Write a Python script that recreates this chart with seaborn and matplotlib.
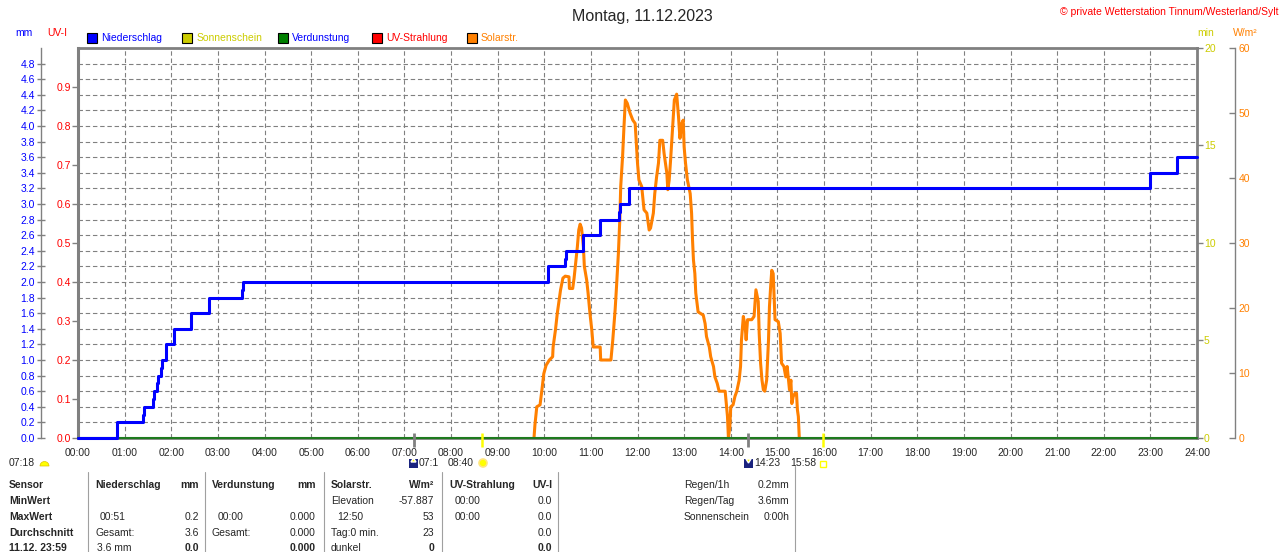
import numpy as np
import pandas as pd
import matplotlib
matplotlib.use('Agg')
import matplotlib.pyplot as plt
from matplotlib.patches import Rectangle, Circle, Wedge, Polygon
from matplotlib.lines import Line2D
import seaborn as sns

# ---- data ----------------------------------------------------------------
# Niederschlag, cumulative (mm); value holds until the next time (hours)
rain_time = [0.0, 0.83, 1.40, 1.42, 1.60, 1.63, 1.69, 1.71, 1.78, 1.81, 1.89,
             2.05, 2.42, 2.80, 2.81, 3.51, 3.53, 10.09, 10.45, 10.47, 10.83,
             11.20, 11.61, 11.63, 11.81, 11.82, 23.00, 23.58, 24.0]
rain_mm = [0.0, 0.2, 0.3, 0.4, 0.5, 0.6, 0.7, 0.8, 0.9, 1.0, 1.2,
           1.4, 1.6, 1.7, 1.8, 1.9, 2.0, 2.2, 2.3, 2.4, 2.6,
           2.8, 2.9, 3.0, 3.1, 3.2, 3.4, 3.6, 3.6]

# Solarstrahlung (W/m²)
solar_time = [9.78, 9.80, 9.84, 9.91, 9.95, 9.99, 10.04, 10.11, 10.18, 10.19,
              10.24, 10.28, 10.32, 10.35, 10.40, 10.45, 10.53, 10.54, 10.61, 10.64,
              10.68, 10.71, 10.74, 10.77, 10.80, 10.84, 10.86, 10.91, 10.94, 10.98,
              11.02, 11.05, 11.20, 11.21, 11.43, 11.47, 11.52, 11.55, 11.59, 11.62,
              11.64, 11.68, 11.71, 11.74, 11.78, 11.84, 11.90, 11.95, 11.98, 12.00,
              12.03, 12.09, 12.14, 12.20, 12.25, 12.28, 12.34, 12.37, 12.41, 12.45,
              12.48, 12.54, 12.57, 12.63, 12.65, 12.68, 12.71, 12.75, 12.79, 12.84,
              12.88, 12.91, 12.95, 12.98, 13.00, 13.03, 13.07, 13.13, 13.16, 13.18,
              13.20, 13.23, 13.25, 13.30, 13.41, 13.45, 13.48, 13.54, 13.57, 13.63,
              13.66, 13.71, 13.75, 13.88, 13.91, 13.93, 13.95, 13.98, 14.00, 14.05,
              14.09, 14.13, 14.18, 14.21, 14.23, 14.27, 14.31, 14.33, 14.36, 14.45,
              14.50, 14.52, 14.54, 14.59, 14.61, 14.64, 14.67, 14.70, 14.73, 14.77,
              14.81, 14.83, 14.86, 14.88, 14.91, 14.95, 15.02, 15.06, 15.09, 15.14,
              15.18, 15.21, 15.26, 15.29, 15.31, 15.34, 15.38, 15.41, 15.43, 15.45,
              15.47]
solar_wm2 = [0.0, 2.0, 4.8, 5.1, 7.4, 9.9, 11.2, 12.0, 12.5, 14.0,
             16.6, 19.2, 21.2, 22.8, 24.6, 24.9, 24.8, 23.0, 23.0, 24.6,
             27.4, 29.4, 32.0, 32.9, 32.3, 29.4, 26.4, 24.3, 22.3, 19.2,
             16.6, 14.0, 14.0, 12.0, 12.0, 15.1, 19.7, 23.3, 28.4, 33.5,
             38.7, 43.3, 47.9, 52.0, 51.5, 50.0, 48.9, 48.4, 44.8, 42.3,
             39.7, 38.7, 35.1, 34.6, 32.0, 32.3, 34.6, 37.6, 40.2, 42.3,
             45.8, 45.8, 43.8, 40.7, 38.2, 39.7, 42.8, 47.4, 52.0, 52.9,
             49.4, 46.1, 48.4, 48.9, 44.8, 42.3, 39.7, 37.6, 34.6, 30.5,
             27.4, 25.3, 22.3, 19.4, 18.9, 17.6, 15.6, 14.0, 12.5, 11.0,
             9.4, 8.4, 7.2, 7.2, 4.8, 3.3, 0.0, 1.7, 4.8, 5.1,
             6.4, 7.2, 8.9, 11.0, 15.1, 18.7, 17.1, 15.1, 18.2, 18.2,
             18.7, 20.7, 22.8, 21.0, 16.1, 11.5, 8.9, 7.4, 7.2, 8.9,
             15.1, 20.2, 23.8, 25.8, 25.3, 18.2, 17.9, 16.1, 11.5, 11.0,
             9.4, 11.0, 7.4, 8.9, 5.3, 6.4, 6.9, 6.9, 4.3, 3.3,
             0.0]

# Verdunstung (mm) – zero all day
evap_time = [0.0, 24.0]
evap_mm = [0.0, 0.0]

# twilight / sunrise-sunset marks on the time axis (hours)
twilight_marks = [7.20, 14.38]
sun_marks = [8.67, 15.97]

hour_labels = [f'{h:02d}:00' for h in range(25)]
mm_ticks = [round(0.2 * i, 1) for i in range(25)]
uv_ticks = [round(0.1 * i, 1) for i in range(10)]
min_ticks = [0, 5, 10, 15, 20]
wm2_ticks = [0, 10, 20, 30, 40, 50, 60]

legend_labels = ['Niederschlag', 'Sonnenschein', 'Verdunstung', 'UV-Strahlung', 'Solarstr.']
legend_box_colors = ['#0000ff', '#cccc00', '#008000', '#ff0000', '#ff8000']
legend_text_colors = ['#0000ff', '#cccc00', '#0000ff', '#ff0000', '#ff8000']

# statistics table below the chart
sensor_rows = ['Sensor', 'MinWert', 'MaxWert', 'Durchschnitt', '11.12. 23:59']
rain_left = ['Niederschlag', '', '00:51', 'Gesamt:', '3.6 mm']
rain_right = ['mm', '', '0.2', '3.6', '0.0']
evap_left = ['Verdunstung', '', '00:00', 'Gesamt:', '']
evap_right = ['mm', '', '0.000', '0.000', '0.000']
solar_left = ['Solarstr.', 'Elevation', '12:50', 'Tag:0 min.', 'dunkel']
solar_right = ['W/m²', '-57.887', '53', '23', '0']
uv_left = ['UV-Strahlung', '00:00', '00:00', '', '']
uv_right = ['UV-I', '0.0', '0.0', '0.0', '0.0']
extra_left = ['Regen/1h', 'Regen/Tag', 'Sonnenschein']
extra_right = ['0.2mm', '3.6mm', '0:00h']

# ---- style ----------------------------------------------------------------
sns.set_style('white')
plt.rcParams['font.family'] = ['Liberation Sans', 'DejaVu Sans']
plt.rcParams['font.size'] = 7.5

GREY = '#808080'
W, H = 1280, 552


def fx(x):
    return x / W


def fy(y):
    return 1 - y / H


fig = plt.figure(figsize=(W / 100, H / 100), dpi=100)
fig.patch.set_facecolor('white')
ax = fig.add_axes([fx(78), fy(438), (1197 - 78) / W, (438 - 48) / H])

# host axis: mm scale, grid, time axis
ax.set_xlim(0, 24)
ax.set_ylim(0, 5.0)
ax.set_xticks(range(25))
ax.set_xticklabels(hour_labels)
ax.set_yticks(mm_ticks)
ax.set_yticklabels([f'{v:.1f}' for v in mm_ticks])
ax.grid(True, color=GREY, ls=(0, (4, 2.5)), lw=0.8)
ax.tick_params(axis='x', length=0, pad=7, labelsize=7.5)
ax.tick_params(axis='y', direction='inout', length=6, width=1, color=GREY,
               labelcolor='#0000ff', pad=1, labelsize=7.5)
ax.spines['left'].set_position(('outward', 27))
ax.spines['left'].set_color(GREY)
ax.spines['left'].set_linewidth(1)
for side in ['top', 'right', 'bottom']:
    ax.spines[side].set_color(GREY)
    ax.spines[side].set_linewidth(2)

# UV axis on the frame edge
ax_uv = ax.twinx()
ax_uv.set_ylim(0, 1.0)
ax_uv.yaxis.tick_left()
ax_uv.set_yticks(uv_ticks)
ax_uv.set_yticklabels([f'{v:.1f}' for v in uv_ticks])
ax_uv.tick_params(axis='y', length=4, width=1, color=GREY, labelcolor='#ff0000',
                  pad=1, labelsize=7.5)
for side in ['top', 'right', 'bottom']:
    ax_uv.spines[side].set_visible(False)
ax_uv.spines['left'].set_color(GREY)
ax_uv.spines['left'].set_linewidth(2.2)

# Sonnenschein minutes axis
ax_min = ax.twinx()
ax_min.set_ylim(0, 20)
ax_min.set_yticks(min_ticks)
ax_min.tick_params(axis='y', length=4, width=1, color=GREY, labelcolor='#cccc00',
                   pad=1, labelsize=7.5)
for side in ax_min.spines:
    ax_min.spines[side].set_visible(False)

# solar radiation axis
ax_w = ax.twinx()
solar = pd.DataFrame({'t': solar_time, 'w': solar_wm2})
sns.lineplot(data=solar, x='t', y='w', ax=ax_w, color='#ff8000', lw=2.2,
             estimator=None, sort=False, legend=False)
ax_w.set_ylim(0, 60)
ax_w.set_xlim(0, 24)
ax_w.set_yticks(wm2_ticks)
ax_w.set_ylabel('')
ax_w.tick_params(axis='y', direction='in', length=4, width=1, color=GREY,
                 labelcolor='#ff8000', pad=3, labelsize=7.5)
for side in ['top', 'left', 'bottom']:
    ax_w.spines[side].set_visible(False)
ax_w.spines['right'].set_position(('outward', 27))
ax_w.spines['right'].set_color(GREY)
ax_w.spines['right'].set_linewidth(1)

# rain + evaporation on top
ax_b = ax.twinx()
evap = pd.DataFrame({'t': evap_time, 'mm': evap_mm})
rain = pd.DataFrame({'t': rain_time, 'mm': rain_mm})
sns.lineplot(data=evap, x='t', y='mm', ax=ax_b, color='#1e7a1e', lw=1.5,
             estimator=None, sort=False, legend=False, clip_on=False)
sns.lineplot(data=rain, x='t', y='mm', ax=ax_b, color='#0000ff', lw=2.2,
             drawstyle='steps-post', estimator=None, sort=False, legend=False,
             clip_on=False)
ax_b.set_xlim(0, 24)
ax_b.set_ylim(0, 5.0)
ax_b.set_axis_off()

# marks on the time axis
ax_b.vlines(twilight_marks, -0.024, 0.014, transform=ax_b.get_xaxis_transform(),
            color=GREY, lw=2, clip_on=False)
ax_b.vlines(sun_marks, -0.024, 0.014, transform=ax_b.get_xaxis_transform(),
            color='#ffff00', lw=1.8, clip_on=False)

# ---- header texts ---------------------------------------------------------
fig.text(fx(642), fy(16), 'Montag, 11.12.2023', ha='center', va='center', fontsize=11.5)
fig.text(fx(1278), fy(12), '© private Wetterstation Tinnum/Westerland/Sylt',
         ha='right', va='center', color='#ff0000', fontsize=7.5)
fig.text(fx(15), fy(33), 'mm', color='#0000ff', va='center')
fig.text(fx(47), fy(33), 'UV-I', color='#ff0000', va='center')
fig.text(fx(1197), fy(33), 'min', color='#cccc00', va='center')
fig.text(fx(1233), fy(33), 'W/m²', color='#ff8000', va='center')

legend_x = [87, 182, 277.5, 372, 466.5]
for x0, lab, bc, tc in zip(legend_x, legend_labels, legend_box_colors, legend_text_colors):
    fig.add_artist(Rectangle((fx(x0), fy(43)), 10 / W, 10 / H, transform=fig.transFigure,
                             facecolor=bc, edgecolor='black', lw=0.8))
    fig.text(fx(x0 + 14.5), fy(38), lab, color=tc, va='center')

# ---- sun-time row under the axis -----------------------------------------
row_y = 463
fig.text(fx(9), fy(row_y), '07:18', va='center')
fig.add_artist(Wedge((44.5, H - row_y - 3), 4.5, 0, 180, facecolor='#ffff00',
                     edgecolor='#e0c000', lw=0.5, transform=None))
fig.add_artist(Rectangle((fx(409), fy(468)), 9 / W, 9 / H, transform=fig.transFigure,
                         facecolor='#1a237e', edgecolor='none'))
fig.add_artist(Polygon([(fx(411), fy(462)), (fx(416), fy(462)), (fx(413.5), fy(458))],
                       closed=True, transform=fig.transFigure, facecolor='#ffff00'))
fig.text(fx(419), fy(row_y), '07:1', va='center')
fig.text(fx(448), fy(row_y), '08:40', va='center')
fig.add_artist(Circle((483, H - row_y), 4, facecolor='#ffff00', edgecolor='#ffe680',
                      lw=1.2, transform=None))
fig.add_artist(Rectangle((fx(744), fy(468)), 9 / W, 9 / H, transform=fig.transFigure,
                         facecolor='#1a237e', edgecolor='none'))
fig.add_artist(Polygon([(fx(746), fy(459)), (fx(751), fy(459)), (fx(748.5), fy(463))],
                       closed=True, transform=fig.transFigure, facecolor='#ffff00'))
fig.text(fx(754), fy(row_y), '14:23', va='center')
fig.text(fx(790), fy(row_y), '15:58', va='center')
fig.add_artist(Rectangle((fx(820), fy(467)), 6 / W, 6 / H, transform=fig.transFigure,
                         facecolor='white', edgecolor='#ffff00', lw=1))

# ---- statistics table -----------------------------------------------------
for x in [88, 205, 324, 442, 558]:
    fig.add_artist(Line2D([fx(x), fx(x)], [fy(472), 0], transform=fig.transFigure,
                          color='#a0a0a0', lw=0.8))
fig.add_artist(Line2D([fx(795), fx(795)], [fy(466), 0], transform=fig.transFigure,
                      color='#a0a0a0', lw=0.8))

table_y = [485, 501, 517, 533, 548]
for i, (y, lab) in enumerate(zip(table_y, sensor_rows)):
    fig.text(fx(9), fy(y), lab, va='center', fontweight='bold')

columns = [
    (rain_left, rain_right, 95, 199, [95, 0, 100, 95, 97]),
    (evap_left, evap_right, 212, 316, [212, 0, 218, 212, 212]),
    (solar_left, solar_right, 331, 434, [331, 331, 337, 331, 331]),
    (uv_left, uv_right, 449, 552, [449, 455, 455, 449, 449]),
]
for left, right, xl, xr, lx in columns:
    for i, y in enumerate(table_y):
        bold_l = 'bold' if i == 0 else 'normal'
        bold_r = 'bold' if i in (0, 4) else 'normal'
        if left[i]:
            fig.text(fx(lx[i]), fy(y), left[i], va='center', fontweight=bold_l)
        if right[i]:
            fig.text(fx(xr), fy(y), right[i], va='center', ha='right', fontweight=bold_r)

for y, l, r in zip(table_y, extra_left, extra_right):
    fig.text(fx(684), fy(y), l, va='center')
    fig.text(fx(789), fy(y), r, va='center', ha='right')

fig.savefig('out.png', dpi=100, facecolor='white')
